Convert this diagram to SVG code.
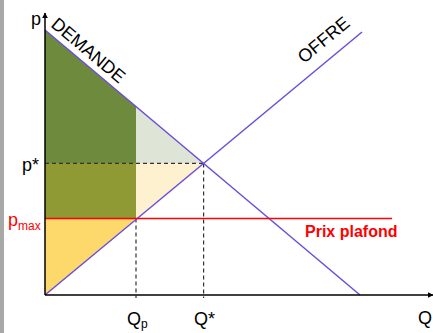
<svg xmlns="http://www.w3.org/2000/svg" width="433" height="333" viewBox="0 0 433 333">
<defs>
<style>
.t{font-family:"Liberation Sans",Arial,sans-serif;fill:#000}
.ax{stroke:#000;stroke-width:1.5;fill:none}
.cv{stroke:#6a4fd8;stroke-width:1.5;fill:none}
.dash{stroke:#333;stroke-width:1.2;stroke-dasharray:4 3;fill:none}
.red{fill:#ff0000}
</style>
<marker id="arr" viewBox="0 0 10 10" refX="9" refY="5" markerWidth="6" markerHeight="6" orient="auto" markerUnits="userSpaceOnUse">
<path d="M0,0 L10,5 L0,10 z" fill="#000"/>
</marker>
</defs>
<rect x="0" y="0" width="433" height="333" fill="#fff"/>
<rect x="0" y="0" width="4" height="333" fill="#a8a8a8"/>
<g id="areas">
<polygon points="45,30 136,106.5 136,163 45,163" fill="#6e8b3d"/>
<polygon points="45,163 136,163 136,218.5 45,218.5" fill="#8f9a35"/>
<polygon points="136,106.5 203.6,163.4 136,163.4" fill="#dfe5d6"/>
<polygon points="136,163.4 203.6,163.4 136,218.5" fill="#fdf1cf"/>
<polygon points="45,218.5 136,218.5 45,295" fill="#fdd86b"/>
</g>
<g id="connectors">
<line class="dash" x1="45" y1="163.4" x2="203.6" y2="163.4"/>
<line class="dash" x1="203.6" y1="163.4" x2="203.6" y2="298"/>
<line class="dash" x1="136" y1="218.5" x2="136" y2="298"/>
<line class="cv" x1="45" y1="30" x2="360" y2="295"/>
<line class="cv" x1="45" y1="295" x2="362" y2="32"/>
<line x1="45" y1="218.5" x2="392" y2="218.5" stroke="#ff0000" stroke-width="1.5"/>
<line class="ax" x1="45" y1="295" x2="45" y2="13" marker-end="url(#arr)"/>
<line class="ax" x1="45" y1="295" x2="433" y2="295" marker-end="url(#arr)"/>
</g>
<g id="labels">
<text class="t" x="31" y="25" font-size="18">p</text>
<text class="t" x="22" y="171" font-size="18">p*</text>
<text class="red" x="8" y="226" font-size="18" font-family="Liberation Sans, Arial, sans-serif">p<tspan font-size="12" dy="4">max</tspan></text>
<text class="t" x="127" y="325" font-size="18">Q<tspan font-size="12" dy="3">p</tspan></text>
<text class="t" x="194" y="325" font-size="18">Q*</text>
<text class="t" x="418" y="324" font-size="18">Q</text>
<text class="t" font-size="18" transform="translate(50,26) rotate(40)">DEMANDE</text>
<text class="t" font-size="18" transform="translate(304,64) rotate(-39.7)">OFFRE</text>
<text x="305" y="237" font-size="16" font-weight="bold" fill="#ff0000" font-family="Liberation Sans, Arial, sans-serif">Prix plafond</text>
</g>
</svg>
